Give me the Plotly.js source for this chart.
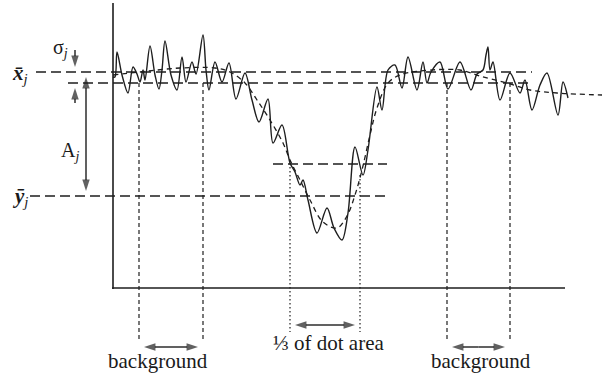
<!DOCTYPE html>
<html>
<head>
<meta charset="utf-8">
<script src="https://cdn.plot.ly/plotly-3.0.1.min.js"></script>
<style>html,body{margin:0;padding:0;background:#fff;}#chart{width:602px;height:376px;}</style>
</head>
<body>
<div id="chart"></div>
<script>
// Schematic signal profile (position vs. intensity, drawn on a downward-positive scale)
const signalX = [113,115,117,122,128,133,137,140,143,145,150,155,159,162,165,171,177,182,186,192,196,203,206,209,215,222,229,236,245,252,259,268,273,282,290,295,300,303,308,317,327,334,342,348,355,363,368,377,382,388,395,402,408,417,423,427,431,440,448,460,471,477,483,486,488,490,493,500,510,520,525,532,540,547,558,563,568];
const signalY = [77,77,52,75,93,67,74,82,70,80,46,75,89,70,41,75,90,57,82,62,74,35,70,90,62,82,63,99,73,100,122,99,143,125,163,172,185,180,200,233,208,228,240,213,147,175,150,87,110,70,65,88,57,90,62,83,72,62,89,62,90,74,70,55,47,70,62,100,73,93,80,110,85,73,115,82,98];
const fitX = [113,140,180,215,230,245,257,270,283,290,300,310,323,337,347,355,362,370,377,388,400,420,460,480,507,530,557,602];
const fitY = [75,72,68,68,72,83,100,120,143,160,180,200,222,228,216,195,170,135,108,83,75,71,70,76,83,90,93,95];

// Levels and window edges
const xBarLevel = 72, sigmaLevel = 83, yBarLevel = 196, thirdLevel = 164;
const bgEdges = [139, 203, 447, 510];
const dotEdges = [290, 360];
const labels = {xbar: "<b><i>x̄</i></b><sub><i>j</i></sub>", ybar: "<b><i>ȳ</i></b><sub><i>j</i></sub>", sigma: "σ<sub><i>j</i></sub>", amp: "A<sub><i>j</i></sub>", bg: "background", dot: "⅓ of dot area"};

const ink = '#1e1e1e';
const F = '"Liberation Serif", "Times New Roman", serif';
const traces = [];
function seg(x, y, dash, w) {
  traces.push({x: x, y: y, mode: 'lines', line: {color: ink, width: w || 1.3, dash: dash || 'solid'}, hoverinfo: 'skip', showlegend: false});
}
// one-headed arrow from (x0,y0) to tip (x1,y1)
function arrow(x0, y0, x1, y1) {
  traces.push({x: [x0, x1], y: [y0, y1], mode: 'lines+markers',
    line: {color: ink, width: 1.4},
    marker: {symbol: ['circle', 'arrow'], size: [0, 12], angleref: 'previous', color: ink, line: {width: 0}},
    hoverinfo: 'skip', showlegend: false});
}
function darrow(x0, y0, x1, y1) {
  const mx = (x0 + x1) / 2, my = (y0 + y1) / 2;
  arrow(mx, my, x0, y0);
  arrow(mx, my, x1, y1);
}
// axes
seg([113, 113], [3, 289], 'solid', 1.6);
seg([112, 565], [288, 288], 'solid', 1.6);
// horizontal reference lines
seg([36, 532], [xBarLevel, xBarLevel], '10px,5px', 1.4);
seg([68, 532], [sigmaLevel, sigmaLevel], '10px,5px', 1.4);
seg([30, 387], [yBarLevel, yBarLevel], '10px,5px', 1.4);
seg([273, 387], [thirdLevel, thirdLevel], '10px,5px', 1.4);
// background windows
bgEdges.forEach(e => seg([e, e], [sigmaLevel, 340], '4px,3px', 1.2));
// dot-area window
seg([dotEdges[0], dotEdges[0]], [163, 332], '1.5px,2.5px', 1.2);
seg([dotEdges[1], dotEdges[1]], [175, 332], '1.5px,2.5px', 1.2);
// fit
traces.push({x: fitX, y: fitY, mode: 'lines', line: {color: ink, width: 1.3, dash: '5px,4px', shape: 'spline', smoothing: 1}, hoverinfo: 'skip', showlegend: false});
// signal
traces.push({x: signalX, y: signalY, mode: 'lines', line: {color: ink, width: 1.4, shape: 'spline', smoothing: 0.9}, hoverinfo: 'skip', showlegend: false});
// arrows
darrow(86, xBarLevel + 5, 86, yBarLevel - 5);
arrow(75, 50, 75, xBarLevel - 5);
arrow(75, 103, 75, sigmaLevel + 5);
darrow(bgEdges[0] + 5, 347, bgEdges[1] - 5, 347);
darrow(bgEdges[2] + 5, 347, bgEdges[3] - 5, 347);
darrow(dotEdges[0] + 5, 325, dotEdges[1] - 5, 325);

function label(x, y, t, size, xa, ya) {
  return {x: x, y: y, xref: 'x', yref: 'y', text: t, showarrow: false, font: {family: F, size: size, color: '#1a1a1a'}, xanchor: xa || 'center', yanchor: ya || 'middle'};
}
const ann = [
  label(20, 74, labels.xbar, 21),
  label(20, 197, labels.ybar, 21),
  label(60, 48, labels.sigma, 20),
  label(70, 151, labels.amp, 20),
  label(158, 361, labels.bg, 21),
  label(481, 361, labels.bg, 21),
  label(328, 343, labels.dot, 21)
];

const layout = {
  width: 602, height: 376, margin: {l: 0, r: 0, t: 0, b: 0},
  paper_bgcolor: '#fff', plot_bgcolor: '#fff',
  xaxis: {range: [0, 602], visible: false, fixedrange: true},
  yaxis: {range: [376, 0], visible: false, fixedrange: true},
  annotations: ann, showlegend: false
};
Plotly.newPlot('chart', traces, layout, {staticPlot: true, displayModeBar: false});
</script>
</body>
</html>
